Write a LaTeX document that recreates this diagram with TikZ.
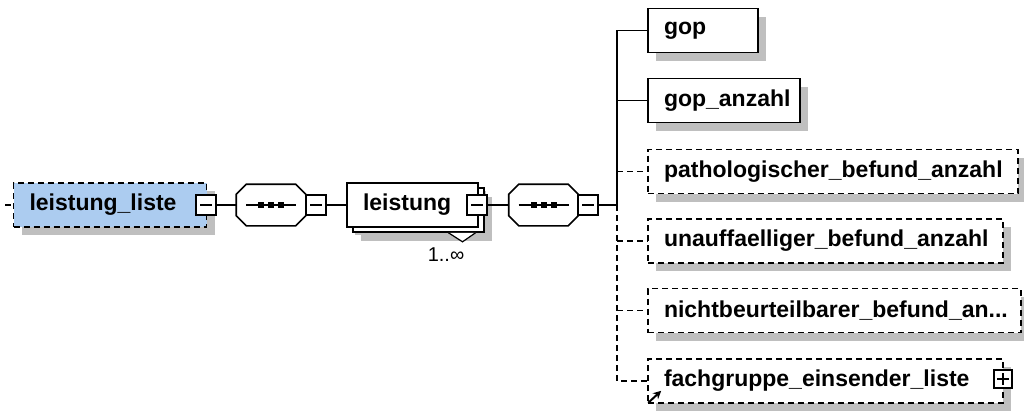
\documentclass[tikz,border=0pt]{standalone}
\usepackage{fontspec}
\setmainfont{Liberation Sans}
\usetikzlibrary{shadows,arrows.meta,calc}

\definecolor{rootblue}{RGB}{172,204,240}

\tikzset{
  elem/.style={draw, fill=white, line width=1.6pt, minimum height=44pt,
    inner xsep=16pt, text width=#1, align=left,
    font=\fontsize{23}{27}\selectfont\bfseries,
    general shadow={fill=black!25, shadow xshift=8pt, shadow yshift=-8pt}},
  optline/.style={dash pattern=on 6pt off 4pt},
  optelem/.style={elem=#1, optline},
  seq/.style={minimum width=68pt, minimum height=40pt, inner sep=0pt},
  toggle/.style={draw, fill=white, line width=1.4pt, minimum size=20pt, inner sep=0pt},
  mult/.style={font=\fontsize{20}{24}\selectfont, inner sep=0pt}
}

\newcommand\octpath[1]{($(#1.north west)+(10,0)$) -- ($(#1.north east)+(-10,0)$)
  -- ($(#1.north east)+(0,10)$) -- ($(#1.south east)+(0,-10)$)
  -- ($(#1.south east)+(-10,0)$) -- ($(#1.south west)+(10,0)$)
  -- ($(#1.south west)+(0,-10)$) -- ($(#1.north west)+(0,10)$) -- cycle}

\newcommand\seqbox[1]{%
  \fill[black!25, shift={(8,9)}] \octpath{#1};
  \filldraw[fill=white] \octpath{#1};
  \draw[line width=1.4pt] ($(#1.center)+(-25,0)$) -- ($(#1.center)+(25,0)$);
  \foreach \dx in {-10,0,10}
    \fill ($(#1.center)+(\dx,0)$) +(-3,-3) rectangle +(3,3);
}

\newcommand\minusmark[1]{%
  \draw[line width=1.2pt] ($(#1.center)+(-6,0)$) -- ($(#1.center)+(6,0)$);
}

\newcommand\plusmark[1]{%
  \draw[line width=1.2pt] ($(#1.center)+(-6,0)$) -- ($(#1.center)+(6,0)$);
  \draw[line width=1.2pt] ($(#1.center)+(0,-6)$) -- ($(#1.center)+(0,6)$);
}

\begin{document}
\begin{tikzpicture}[x=1pt,y=-1pt, line width=1.6pt]
  \useasboundingbox (0,0) rectangle (1024,410);

  \node[optelem=161pt, fill=rootblue] (LeistungListe) at (110,205) {leistung\_liste};
  \node[toggle] (ListeMinus) at (206,205) {};
  \node[seq] (SeqA) at (271,205) {};
  \node[toggle] (SeqAMinus) at (316,205) {};
  \node[elem=99pt, general shadow={fill=black!25, shadow xshift=14pt, shadow yshift=-14pt},
    copy shadow={shadow xshift=6pt, shadow yshift=-5pt}] (Leistung) at (412.5,205) {leistung};
  \node[toggle] (LeistungMinus) at (477,205) {};
  \node[seq] (SeqB) at (543.5,205) {};
  \node[toggle] (SeqBMinus) at (588,205) {};
  \node[mult] (LeistungCard) at (446,255) {1..∞};

  \node[elem=78pt] (Gop) at (703,30.5) {gop};
  \node[elem=120pt] (GopAnzahl) at (724,100.5) {gop\_anzahl};
  \node[optelem=338pt] (Patho) at (833,171.5) {pathologischer\_befund\_anzahl};
  \node[optelem=323pt] (Unauf) at (825.5,241) {unauffaelliger\_befund\_anzahl};
  \node[optelem=341pt] (Nicht) at (834.5,310.5) {nichtbeurteilbarer\_befund\_an...};
  \node[optelem=323pt] (Fach) at (825.5,381) {fachgruppe\_einsender\_liste};
  \node[toggle, minimum size=18pt] (FachPlus) at (1003,379) {};

  \seqbox{SeqA}
  \seqbox{SeqB}
  \node[toggle] at (SeqAMinus) {};
  \node[toggle] at (SeqBMinus) {};
  \minusmark{ListeMinus}
  \minusmark{SeqAMinus}
  \minusmark{LeistungMinus}
  \minusmark{SeqBMinus}
  \plusmark{FachPlus}

  \coordinate (Start) at (5,205);
  \coordinate (Bus) at (617,205);

  \draw[optline] (Start) -- (LeistungListe.west);
  \draw (ListeMinus.east) -- (SeqA.west);
  \draw (SeqAMinus.east) -- (Leistung.west);
  \draw (LeistungMinus.east) -- (SeqB.west);
  \draw (SeqBMinus.east) -- (Bus);
  \draw (Bus) |- (Gop.west);
  \draw (Bus) |- (GopAnzahl.west);
  \draw[optline] (Bus |- Patho.west) -- (Patho.west);
  \draw[optline] (Bus) |- (Fach.west);
  \draw[optline] (Bus |- Unauf.west) -- (Unauf.west);
  \draw[optline] (Bus |- Nicht.west) -- (Nicht.west);

  \filldraw[fill=white, line width=1.2pt] ($(Leistung.south)+(36,5)$) -- ($(Leistung.south)+(50,14)$) -- ($(Leistung.south)+(63,5)$);
  \draw[-{Stealth[length=8pt,width=8pt]}, line width=2pt] ($(Fach.south west)+(1,-1)$) -- ++(13,-12);
\end{tikzpicture}
\end{document}
